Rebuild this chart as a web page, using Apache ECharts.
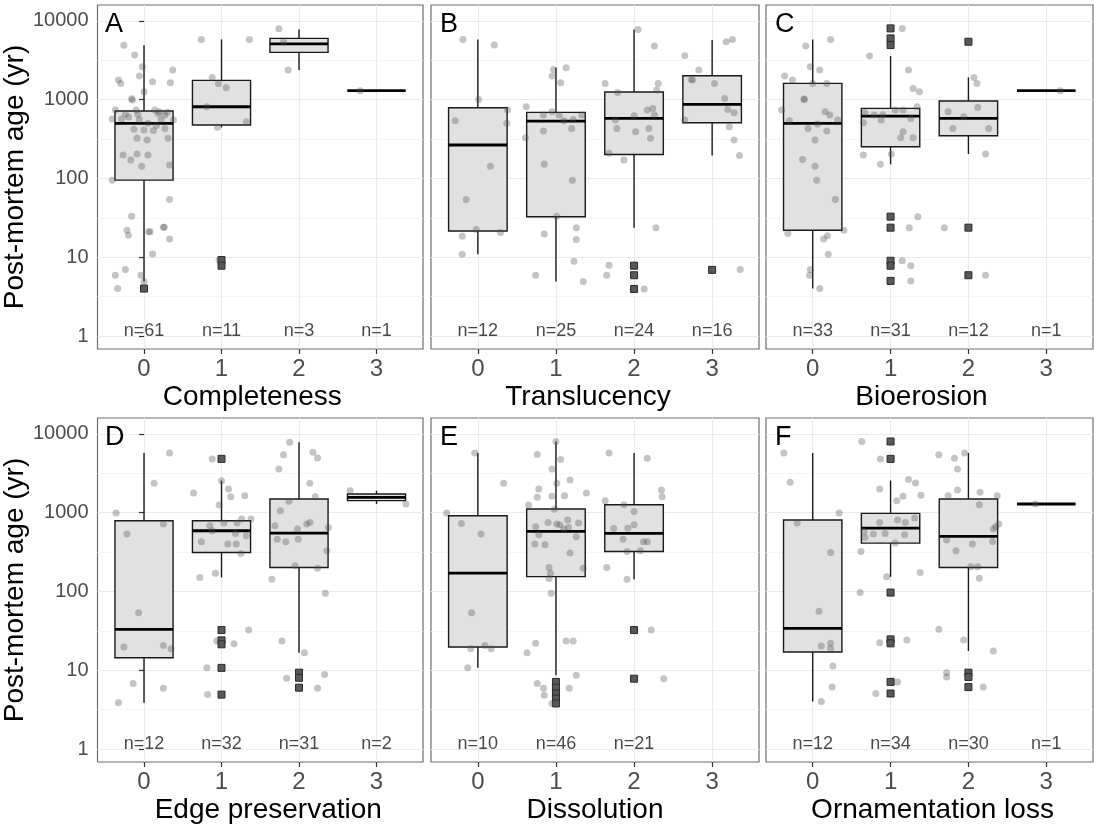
<!DOCTYPE html>
<html>
<head>
<meta charset="utf-8">
<script src="https://cdn.jsdelivr.net/npm/echarts@6/dist/echarts.min.js"></script>
<style>
  html, body { margin: 0; padding: 0; background: #ffffff; }
  #chart { width: 1094px; height: 828px; }
</style>
</head>
<body>
<div id="chart"></div>
<script>
// Category levels shared by every panel and the log-axis breaks
const categories = ['0', '1', '2', '3'];
const xTicks = [0, 1, 2, 3];
const yTicks = [1, 10, 100, 1000, 10000];
const yMinorTicks = [3.1623, 31.623, 316.23, 3162.3];
const yLabel = 'Post-mortem age (yr)';
const panelLetters = ['A', 'B', 'C', 'D', 'E', 'F'];
const panelTitles = ['Completeness', 'Translucency', 'Bioerosion', 'Edge preservation', 'Dissolution', 'Ornamentation loss'];

// Sample sizes per category
const countsA = [61, 11, 3, 1];
const countsB = [12, 25, 24, 16];
const countsC = [33, 31, 12, 1];
const countsD = [12, 32, 31, 2];
const countsE = [10, 46, 21, 0];
const countsF = [12, 34, 30, 1];

// Box statistics per category: [lower whisker, Q1, median, Q3, upper whisker]
const boxesA = [[4.9, 95, 499, 715, 4900], [444, 475, 811, 1750, 5800], [2365, 3965, 5100, 5970, 7770], [1295, 1295, 1295, 1295, 1295]];
const boxesB = [[10.9, 21.5, 265, 788, 5800], [4.9, 32.6, 534, 687, 2535], [23.7, 201, 577, 1245, 7770], [195, 509, 868, 2006, 5690]];
const boxesC = [[4.0, 22, 499, 1604, 5800], [151, 252, 618, 773, 3565], [204, 348, 577, 957, 1910], [1295, 1295, 1295, 1295, 1295]];
const boxesD = [[3.85, 14.4, 33, 788, 5720], [150, 312, 588, 788, 2543], [16.6, 201, 549, 1486, 7820], [1286, 1416, 1560, 1720, 1897]];
const boxesE = [[10.7, 19.7, 170, 912, 5720], [8.65, 154, 577, 1109, 7980], [143, 321, 544, 1259, 5720], null];
const boxesF = [[4.0, 17, 34, 804, 5720], [153, 410, 636, 977, 2543], [17.5, 201, 498, 1486, 5720], [1285, 1285, 1285, 1285, 1285]];

// Outliers flagged by the boxplot: [category, value]
const outliersA = [[0, 4.0], [1, 9.2], [1, 7.8]];
const outliersB = [[2, 7.8], [2, 5.9], [2, 3.95], [3, 6.9]];
const outliersC = [[1, 8000], [1, 5970], [1, 4915], [1, 32.7], [1, 23.7], [1, 9.0], [1, 7.8], [1, 5.0], [2, 5420], [2, 23.7], [2, 5.9]];
const outliersD = [[1, 4800], [1, 32.3], [1, 23.9], [1, 21.3], [1, 10.7], [1, 4.9], [2, 9.3], [2, 8.0], [2, 6.0]];
const outliersE = [[1, 7.1], [1, 6.0], [1, 5.06], [1, 4.37], [1, 3.78], [2, 32.3], [2, 7.8]];
const outliersF = [[1, 7980], [1, 4800], [1, 96.6], [1, 24.6], [1, 21.9], [1, 7.1], [1, 5.06], [2, 9.3], [2, 8.2], [2, 6.1]];

// Individual specimens: [category, horizontal jitter, post-mortem age]
const pointsA = [
  [0, -0.26, 4900], [0, -0.12, 3670], [0, -0.02, 2610], [0, 0.37, 2370], [0, -0.06, 1990], [0, -0.33, 1770], [0, -0.30, 1600],
  [0, 0.11, 1680], [0, 0.34, 1635], [0, 0.00, 1257], [0, -0.16, 1025], [0, -0.15, 985], [0, -0.37, 736], [0, -0.24, 649],
  [0, -0.10, 736], [0, 0.14, 736], [0, 0.18, 668], [0, 0.27, 636], [0, -0.41, 566], [0, -0.29, 566], [0, -0.06, 560],
  [0, 0.38, 550], [0, 0.05, 499], [0, 0.27, 431], [0, 0.00, 410], [0, 0.12, 404], [0, -0.09, 322], [0, 0.04, 306],
  [0, 0.31, 322], [0, -0.27, 198], [0, -0.09, 204], [0, 0.05, 198], [0, -0.17, 171], [0, -0.03, 143], [0, 0.33, 148],
  [0, -0.41, 95], [0, 0.33, 54], [0, -0.16, 33], [0, -0.22, 22], [0, -0.20, 19], [0, 0.06, 21], [0, 0.08, 21],
  [0, 0.25, 24], [0, 0.26, 24], [0, 0.33, 17], [0, 0.11, 11], [0, -0.37, 5.9], [0, -0.24, 7.0], [0, -0.04, 5.9],
  [0, 0.00, 4.9], [0, -0.34, 4.0], [0, 0.20, 700], [0, -0.20, 600], [0, 0.22, 560], [0, -0.08, 650], [0, 0.30, 690],
  [0, -0.13, 420], [0, 0.16, 470],
  [1, -0.26, 5800], [1, 0.36, 5800], [1, -0.12, 1910], [1, -0.04, 1600], [1, 0.06, 1413], [1, -0.19, 811], [1, -0.05, 444],
  [1, 0.32, 523], [1, -0.03, 9.2], [1, 0.00, 7.8],
  [2, -0.26, 7900], [2, -0.20, 5400], [2, -0.14, 2365],
  [3, -0.21, 1295]
];
const pointsB = [
  [0, -0.19, 5800], [0, 0.21, 4920], [0, 0.01, 1005], [0, 0.38, 736], [0, -0.29, 539], [0, 0.37, 499], [0, 0.16, 143],
  [0, -0.15, 54], [0, -0.02, 22.5], [0, 0.29, 20.5], [0, -0.20, 18.5], [0, -0.20, 10.9],
  [1, 0.13, 2535], [1, -0.03, 2415], [1, -0.05, 1986], [1, 0.06, 1635], [1, -0.38, 811], [1, -0.16, 636], [1, 0.04, 636],
  [1, 0.10, 539], [1, 0.33, 636], [1, -0.16, 398], [1, 0.20, 431], [1, -0.39, 328], [1, -0.15, 151], [1, 0.21, 95],
  [1, 0.01, 33], [1, -0.15, 19.7], [1, 0.26, 23.7], [1, 0.26, 16.8], [1, 0.23, 8.9], [1, -0.26, 5.9], [1, 0.35, 4.9],
  [1, -0.05, 700], [1, 0.22, 560],
  [2, 0.05, 7770], [2, 0.26, 4775], [2, -0.37, 1604], [2, -0.21, 1233], [2, 0.31, 1604], [2, 0.29, 1320], [2, 0.17, 736],
  [2, 0.24, 772], [2, 0.26, 636], [2, 0.00, 624], [2, -0.24, 550], [2, -0.22, 431], [2, 0.02, 391], [2, 0.19, 431],
  [2, 0.21, 322], [2, -0.32, 208], [2, -0.13, 171], [2, 0.28, 23.7], [2, -0.32, 7.9], [2, -0.35, 5.9], [2, 0.13, 3.95],
  [3, 0.18, 5420], [3, 0.26, 5800], [3, -0.35, 3597], [3, -0.17, 2365], [3, -0.25, 1766], [3, -0.27, 1800], [3, 0.03, 1604],
  [3, 0.16, 1035], [3, 0.20, 750], [3, 0.28, 681], [3, -0.35, 550], [3, 0.22, 452], [3, 0.28, 306], [3, 0.35, 195],
  [3, 0.36, 7.0]
];
const pointsC = [
  [0, -0.09, 4775], [0, 0.23, 5800], [0, -0.03, 2610], [0, 0.09, 2365], [0, -0.36, 1986], [0, -0.26, 1766], [0, 0.00, 1604],
  [0, 0.18, 1604], [0, -0.11, 1015], [0, -0.40, 736], [0, 0.16, 701], [0, 0.22, 636], [0, -0.30, 539], [0, 0.32, 550],
  [0, 0.06, 489], [0, -0.06, 431], [0, 0.18, 398], [0, 0.03, 306], [0, -0.13, 174], [0, 0.03, 143], [0, 0.05, 95],
  [0, 0.29, 54], [0, -0.32, 20], [0, 0.14, 17], [0, 0.19, 18.7], [0, 0.40, 22], [0, 0.20, 10.9], [0, -0.03, 7.0],
  [0, -0.04, 5.9], [0, 0.09, 4.0], [0, -0.11, 1000],
  [1, 0.15, 8000], [1, -0.27, 3565], [1, 0.23, 2365], [1, 0.29, 1386], [1, 0.37, 1258], [1, 0.34, 811], [1, -0.33, 681],
  [1, -0.21, 636], [1, -0.10, 640], [1, 0.06, 736], [1, 0.16, 736], [1, -0.35, 509], [1, -0.12, 550], [1, 0.26, 575],
  [1, 0.16, 391], [1, 0.13, 328], [1, 0.29, 328], [1, -0.35, 198], [1, -0.13, 151], [1, 0.01, 204], [1, 0.35, 32.7],
  [1, 0.24, 23.7], [1, 0.15, 9.0], [1, 0.26, 7.8], [1, 0.26, 5.0],
  [2, 0.07, 1910], [2, 0.11, 1604], [2, -0.26, 701], [2, 0.12, 796], [2, -0.06, 606], [2, -0.20, 431], [2, 0.26, 431],
  [2, 0.22, 204], [2, -0.31, 23.7], [2, 0.22, 5.9],
  [3, 0.18, 1295]
];
const pointsD = [
  [0, 0.33, 5720], [0, 0.13, 2352], [0, -0.36, 986], [0, 0.25, 715], [0, -0.22, 533], [0, -0.07, 53.7], [0, -0.26, 19.7],
  [0, 0.25, 20.6], [0, 0.35, 18.7], [0, -0.14, 6.8], [0, 0.25, 5.9], [0, -0.33, 3.85],
  [1, -0.12, 4800], [1, 0.00, 2543], [1, 0.09, 1993], [1, 0.12, 1592], [1, 0.30, 1640], [1, -0.36, 1774], [1, -0.03, 1247],
  [1, 0.26, 828], [1, 0.38, 828], [1, -0.15, 681], [1, 0.03, 736], [1, 0.20, 736], [1, -0.12, 588], [1, 0.18, 544],
  [1, 0.32, 508], [1, -0.26, 426], [1, 0.08, 398], [1, 0.19, 398], [1, 0.25, 303], [1, -0.08, 170], [1, -0.28, 150],
  [1, 0.35, 32.3], [1, -0.06, 23.5], [1, 0.16, 21.7], [1, -0.19, 10.7], [1, -0.18, 4.9],
  [2, -0.12, 7820], [2, -0.20, 5400], [2, 0.18, 5830], [2, 0.24, 4940], [2, -0.26, 3580], [2, 0.14, 2350], [2, 0.21, 1590],
  [2, -0.13, 1388], [2, -0.24, 1056], [2, -0.31, 680], [2, 0.10, 715], [2, 0.14, 750], [2, -0.02, 617], [2, 0.38, 648],
  [2, -0.28, 460], [2, -0.17, 426], [2, -0.01, 460], [2, 0.36, 327], [2, -0.05, 211], [2, 0.24, 197], [2, -0.35, 143],
  [2, 0.34, 95], [2, -0.22, 23.4], [2, 0.07, 16.6], [2, -0.16, 7.9], [2, 0.33, 8.8], [2, 0.24, 5.9],
  [3, -0.34, 1897], [3, 0.38, 1286]
];
const pointsE = [
  [0, -0.04, 5720], [0, 0.33, 2350], [0, -0.40, 986], [0, -0.21, 729], [0, 0.04, 533], [0, -0.08, 53.7], [0, -0.09, 18.9],
  [0, 0.09, 20.6], [0, 0.17, 18.7], [0, -0.13, 10.7],
  [1, 0.00, 7980], [1, -0.24, 5450], [1, 0.06, 4710], [1, -0.05, 3580], [1, 0.01, 2350], [1, 0.18, 2595], [1, -0.22, 1993],
  [1, 0.39, 1774], [1, -0.05, 1608], [1, 0.11, 1640], [1, -0.24, 1560], [1, -0.35, 1247], [1, -0.10, 750], [1, 0.01, 715],
  [1, 0.15, 804], [1, 0.29, 736], [1, -0.26, 661], [1, -0.22, 523], [1, 0.10, 617], [1, 0.26, 493], [1, -0.27, 398],
  [1, -0.14, 390], [1, 0.18, 306], [1, -0.09, 201], [1, -0.07, 170], [1, 0.35, 197], [1, -0.09, 146], [1, -0.06, 95],
  [1, -0.26, 21.9], [1, -0.37, 16.6], [1, 0.13, 23.4], [1, 0.22, 23.4], [1, 0.26, 8.65], [1, -0.24, 6.8], [1, -0.16, 5.9],
  [1, 0.17, 5.9], [1, -0.15, 4.8], [1, -0.05, 3.78], [1, 0.05, 700], [1, 0.16, 650], [1, -0.02, 1100],
  [2, -0.32, 5720], [2, 0.17, 4900], [2, 0.35, 1936], [2, 0.36, 1592], [2, -0.37, 1416], [2, -0.13, 1259], [2, 0.00, 1035],
  [2, 0.00, 701], [2, -0.26, 630], [2, -0.08, 634], [2, -0.14, 460], [2, 0.12, 426], [2, 0.17, 426], [2, -0.09, 321],
  [2, 0.08, 327], [2, -0.35, 201], [2, -0.09, 143], [2, 0.22, 32.3], [2, 0.38, 7.8]
];
const pointsF = [
  [0, -0.37, 5720], [0, -0.29, 2422], [0, 0.34, 986], [0, -0.20, 736], [0, 0.23, 312], [0, 0.08, 56], [0, 0.11, 20.2],
  [0, 0.23, 21.9], [0, 0.23, 18.9], [0, 0.26, 11.3], [0, 0.25, 6.1], [0, 0.11, 4.0],
  [1, -0.37, 7980], [1, -0.13, 4800], [1, 0.23, 2620], [1, 0.32, 2377], [1, -0.14, 1993], [1, 0.39, 1663], [1, 0.16, 1608],
  [1, 0.08, 1416], [1, 0.31, 852], [1, 0.09, 804], [1, -0.14, 750], [1, 0.19, 750], [1, -0.34, 577], [1, -0.22, 533],
  [1, -0.07, 544], [1, 0.18, 523], [1, -0.33, 484], [1, 0.06, 410], [1, -0.38, 321], [1, 0.38, 173], [1, -0.05, 153],
  [1, -0.39, 96.6], [1, 0.21, 24.1], [1, -0.14, 22.3], [1, 0.09, 7.1], [1, -0.19, 5.06],
  [2, -0.05, 5720], [2, -0.38, 5400], [2, -0.18, 4900], [2, -0.14, 3580], [2, -0.14, 1936], [2, 0.15, 1807], [2, -0.26, 1640],
  [2, 0.37, 1640], [2, 0.14, 1259], [2, 0.39, 715], [2, 0.35, 661], [2, 0.32, 617], [2, -0.28, 448], [2, 0.05, 398],
  [2, 0.31, 430], [2, -0.16, 327], [2, 0.03, 205], [2, 0.12, 205], [2, 0.14, 147], [2, -0.38, 33], [2, -0.06, 24.1],
  [2, 0.32, 17.5], [2, -0.28, 9.3], [2, -0.28, 8.2], [2, 0.19, 6.1],
  [3, -0.14, 1285]
];

const panels = [
  { counts: countsA, boxes: boxesA, outliers: outliersA, points: pointsA },
  { counts: countsB, boxes: boxesB, outliers: outliersB, points: pointsB },
  { counts: countsC, boxes: boxesC, outliers: outliersC, points: pointsC },
  { counts: countsD, boxes: boxesD, outliers: outliersD, points: pointsD },
  { counts: countsE, boxes: boxesE, outliers: outliersE, points: pointsE },
  { counts: countsF, boxes: boxesF, outliers: outliersF, points: pointsF }
];

// Panel layout (pixels) and axis extents
const colLeft = [96, 431, 766];
const colWidth = [327, 328, 327];
const rowTop = [5, 418];
const panelHeight = 344;
const titleShift = [-8, -7, -8, 8, 0, 3];   // horizontal nudge of each x-axis title
const X_MIN = -0.6, X_MAX = 3.6;
const Y_MIN = Math.pow(10, -0.165), Y_MAX = Math.pow(10, 4.2);
const COUNT_Y = 1.17;
const BOX_HALF = 0.375;
const FONT = "'Liberation Sans', Arial, Helvetica, sans-serif";

function renderBox(params, api) {
  const c = api.value(0);
  const lo = api.value(1), q1 = api.value(2), med = api.value(3), q3 = api.value(4), hi = api.value(5);
  const pLo = api.coord([c, lo]);
  const pQ1 = api.coord([c, q1]);
  const pQ3 = api.coord([c, q3]);
  const pHi = api.coord([c, hi]);
  const pMed = api.coord([c, med]);
  const xL = api.coord([c - BOX_HALF, med])[0];
  const xR = api.coord([c + BOX_HALF, med])[0];
  const edge = { stroke: '#1a1a1a', lineWidth: 1.4 };
  return {
    type: 'group',
    children: [
      { type: 'line', shape: { x1: pLo[0], y1: pLo[1], x2: pQ1[0], y2: pQ1[1] }, style: edge },
      { type: 'line', shape: { x1: pQ3[0], y1: pQ3[1], x2: pHi[0], y2: pHi[1] }, style: edge },
      { type: 'rect', shape: { x: xL, y: pQ3[1], width: xR - xL, height: pQ1[1] - pQ3[1] },
        style: { fill: '#e1e1e1', stroke: '#1a1a1a', lineWidth: 1.4 } },
      { type: 'line', shape: { x1: xL, y1: pMed[1], x2: xR, y2: pMed[1] }, style: { stroke: '#000', lineWidth: 2.8 } }
    ]
  };
}

function shiftPadding(s) {
  return s >= 0 ? [0, 0, 0, 2 * s] : [0, -2 * s, 0, 0];
}

const grids = [], xAxes = [], yAxes = [], series = [], graphics = [];

panels.forEach((p, i) => {
  const row = Math.floor(i / 3), col = i % 3;
  const left = colLeft[col], top = rowTop[row], width = colWidth[col];
  grids.push({ left: left, top: top, width: width, height: panelHeight, show: true,
    borderColor: '#6e6e6e', borderWidth: 1.2, backgroundColor: '#ffffff' });

  xAxes.push({
    type: 'value', gridIndex: i, min: X_MIN, max: X_MAX,
    axisLine: { show: false },
    axisTick: { show: true, customValues: xTicks, length: 5, lineStyle: { color: '#333333', width: 1.2 } },
    axisLabel: { customValues: xTicks, formatter: v => categories[Math.round(v)], fontSize: 24, color: '#4d4d4d',
      margin: 8, fontFamily: FONT },
    splitLine: { show: true, lineStyle: { color: '#ebebeb', width: 1.1 } },
    name: panelTitles[i], nameLocation: 'middle', nameGap: 34,
    nameTextStyle: { fontSize: 28, color: '#000000', fontFamily: FONT, padding: shiftPadding(titleShift[i]) }
  });

  // major breaks with labels
  yAxes.push({
    type: 'log', logBase: 10, gridIndex: i, min: Y_MIN, max: Y_MAX,
    axisLine: { show: false },
    axisTick: { show: col === 0, customValues: yTicks, length: 5, lineStyle: { color: '#333333', width: 1.2 } },
    axisLabel: { show: col === 0, customValues: yTicks, formatter: v => String(Math.round(v)), fontSize: 20,
      color: '#4d4d4d', margin: 9, fontFamily: FONT },
    splitLine: { show: true, lineStyle: { color: '#ebebeb', width: 1.1 } },
    name: col === 0 ? yLabel : '', nameLocation: 'middle', nameGap: 61,
    nameTextStyle: { fontSize: 28, color: '#000000', fontFamily: FONT }
  });
  // minor breaks, grid lines only
  yAxes.push({
    type: 'log', logBase: 10, gridIndex: i, min: Y_MIN, max: Y_MAX, position: 'left',
    axisLine: { show: false },
    axisTick: { show: false, customValues: yMinorTicks },
    axisLabel: { show: false, customValues: yMinorTicks },
    splitLine: { show: true, lineStyle: { color: '#f4f4f4', width: 0.8 } }
  });

  const boxData = [];
  p.boxes.forEach((b, c) => { if (b) boxData.push([c].concat(b)); });
  series.push({
    type: 'custom', xAxisIndex: i, yAxisIndex: 2 * i, renderItem: renderBox,
    encode: { x: 0, y: [1, 2, 3, 4, 5] }, data: boxData, z: 2, silent: true
  });
  series.push({
    type: 'scatter', xAxisIndex: i, yAxisIndex: 2 * i, symbol: 'rect', symbolSize: 7,
    itemStyle: { color: '#595959', borderColor: '#2a2a2a', borderWidth: 1, opacity: 1 },
    data: p.outliers, z: 3, silent: true
  });
  series.push({
    type: 'scatter', xAxisIndex: i, yAxisIndex: 2 * i, symbol: 'circle', symbolSize: 7,
    itemStyle: { color: 'rgba(80,80,80,0.42)', borderWidth: 0 },
    data: p.points.map(d => [d[0] + d[1], d[2]]), z: 4, silent: true
  });
  const countData = [];
  p.counts.forEach((n, c) => { if (n > 0) countData.push([c, COUNT_Y, n]); });
  series.push({
    type: 'scatter', xAxisIndex: i, yAxisIndex: 2 * i, symbolSize: 1,
    itemStyle: { color: 'rgba(0,0,0,0)' },
    label: { show: true, position: 'inside', formatter: q => 'n=' + q.value[2], fontSize: 18,
      color: '#1a1a1a', fontFamily: FONT },
    data: countData, z: 5, silent: true
  });

  graphics.push({
    type: 'text', left: left + 9, top: top + 6, z: 10,
    style: { text: panelLetters[i], fontSize: 27, fill: '#000000', fontFamily: FONT }
  });
});

const chart = echarts.init(document.getElementById('chart'), null, { renderer: 'canvas' });
chart.setOption({
  animation: false,
  backgroundColor: '#ffffff',
  textStyle: { fontFamily: FONT },
  grid: grids,
  xAxis: xAxes,
  yAxis: yAxes,
  series: series,
  graphic: graphics
});
</script>
</body>
</html>
